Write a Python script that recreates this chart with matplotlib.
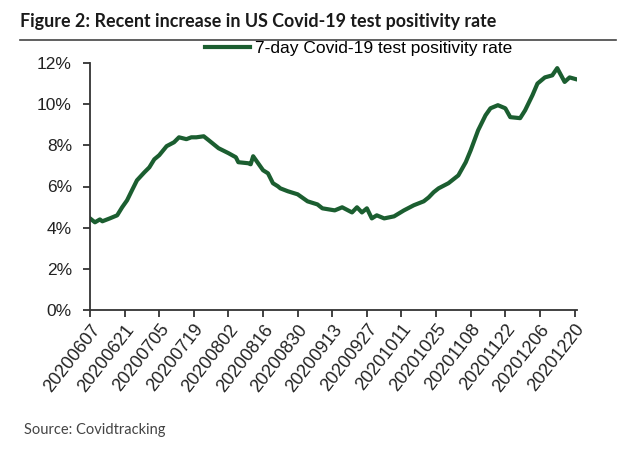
import matplotlib
matplotlib.use('Agg')
import matplotlib.pyplot as plt
import pandas as pd

# days since 2020-06-07 and 7-day positivity rate (%)
days = [0, 2, 4, 5, 8, 11, 13, 15, 17, 19, 22, 24, 26, 28, 31, 34, 36, 39, 41, 43,
        46, 48, 52, 56, 59, 60, 64, 65, 66, 68, 70, 72, 74, 76, 77, 80, 84, 88, 92, 94,
        99, 102, 106, 108, 110, 112, 114, 116, 119, 123, 127, 131, 135, 137, 139, 141,
        145, 149, 152, 154, 157, 160, 162, 165, 168, 170, 174, 176, 179, 181, 184, 187,
        189, 192, 194, 197, 198]
rate = [4.45, 4.26, 4.40, 4.31, 4.45, 4.60, 4.99, 5.33, 5.82, 6.30, 6.69, 6.93, 7.32, 7.52,
        7.96, 8.15, 8.39, 8.30, 8.39, 8.39, 8.44, 8.25, 7.86, 7.62, 7.42, 7.18, 7.13, 7.08,
        7.47, 7.13, 6.79, 6.64, 6.16, 6.01, 5.91, 5.77, 5.62, 5.28, 5.13, 4.94, 4.84, 4.99,
        4.74, 4.99, 4.74, 4.94, 4.45, 4.60, 4.45, 4.55, 4.84, 5.09, 5.28, 5.47, 5.72, 5.91,
        6.16, 6.54, 7.18, 7.76, 8.73, 9.46, 9.80, 9.95, 9.80, 9.37, 9.32, 9.70, 10.44, 11.00,
        11.30, 11.40, 11.75, 11.08, 11.30, 11.20, 11.26]
tick_dates = ['20200607', '20200621', '20200705', '20200719', '20200802', '20200816',
              '20200830', '20200913', '20200927', '20201011', '20201025', '20201108',
              '20201122', '20201206', '20201220']
y_ticks = [0, 2, 4, 6, 8, 10, 12]

start = pd.Timestamp('2020-06-07')
x = start + pd.to_timedelta(days, unit='D')
ticks = pd.to_datetime(tick_dates, format='%Y%m%d')

plt.rcParams['font.family'] = ['Liberation Sans', 'DejaVu Sans']
fig = plt.figure(figsize=(6.4, 4.51), dpi=100)
ax = fig.add_axes([90/640, 1-310/451, (577-90)/640, (310-63)/451])

ax.plot(x, rate, color='#1b5e30', lw=3.0, label='7-day Covid-19 test positivity rate')

ax.set_xlim(start, start + pd.Timedelta(days=197))
ax.set_ylim(0, 12)
ax.set_yticks(y_ticks)
ax.set_yticklabels([f'{v}%' for v in y_ticks], fontsize=12.5, color='#222222')
ax.set_xticks(ticks)
ax.set_xticklabels(tick_dates, rotation=52, ha='right', rotation_mode='anchor',
                   fontsize=13, color='#222222')
ax.tick_params(axis='both', direction='out', length=5, width=1.3, color='#333333')
ax.tick_params(axis='y', pad=8)
ax.tick_params(axis='x', pad=3)
for s in ['top', 'right']:
    ax.spines[s].set_visible(False)
for s in ['left', 'bottom']:
    ax.spines[s].set_linewidth(1.3)
    ax.spines[s].set_color('#333333')

ax.legend(loc='center left', bbox_to_anchor=(205/640, 1-48/451), bbox_transform=fig.transFigure,
          frameon=False, fontsize=12.5, handlelength=2.6, handletextpad=0.3,
          borderpad=0, borderaxespad=0)

fig.text(20/640, 1-22/451, 'Figure 2: Recent increase in US Covid-19 test positivity rate',
         fontsize=12.9, fontweight='bold', va='center', color='#1a1a1a', family='Lato')
fig.add_artist(plt.Line2D([20/640, 616/640], [1-40/451, 1-40/451], color='#444444', lw=1.2))
fig.text(24/640, 1-430/451, 'Source: Covidtracking', fontsize=10.5, va='center',
         color='#444444', family='Lato')

fig.savefig('out.png', dpi=100, facecolor='white')
